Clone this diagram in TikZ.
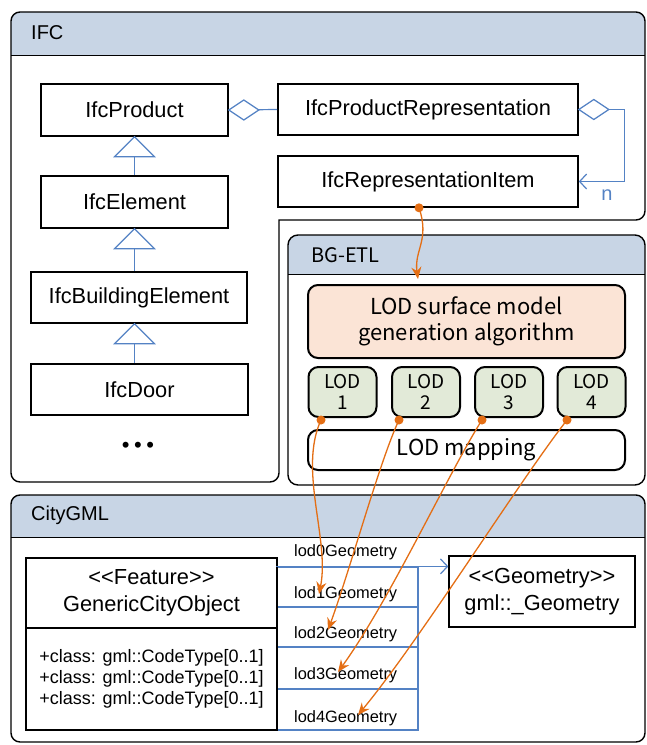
\documentclass[tikz,border=0pt]{standalone}
\usepackage{fontspec}
\setmainfont{Liberation Sans}
\newfontfamily\umlfont{Liberation Sans}
\newfontfamily\korfont{Noto Sans CJK KR}
\usetikzlibrary{arrows.meta}
\definecolor{hdrfill}{RGB}{200,213,229}
\definecolor{umlblue}{RGB}{84,130,196}
\definecolor{linkorange}{RGB}{228,110,20}
\definecolor{algofill}{RGB}{251,228,214}
\definecolor{lodfill}{RGB}{226,234,216}
\begin{document}
\begin{tikzpicture}[x=1pt,y=-1pt,
  cls/.style={draw, line width=1.6pt, fill=white, inner sep=0pt,
    font=\umlfont\fontsize{21.8}{27}\selectfont, align=center},
  frameline/.style={draw, line width=1.4pt},
  hdrtext/.style={anchor=west, inner sep=0pt, font=\umlfont\fontsize{20}{24}\selectfont},
  uml/.style={draw=umlblue, line width=1.2pt},
  umlarrow/.style={uml, -{Straight Barb[length=7pt,width=15pt,line width=1.2pt]}},
  rowbox/.style={draw=umlblue, line width=1.2pt, minimum width=141pt, inner sep=0pt},
  rowtext/.style={anchor=west, inner sep=0pt, font=\umlfont\fontsize{16.4}{20}\selectfont},
  etlbox/.style={draw, line width=2pt, rounded corners=10pt, inner sep=0pt, align=center,
    font=\korfont\fontsize{22}{26}\selectfont},
  lodbox/.style={etlbox, fill=lodfill, minimum width=68pt, minimum height=50pt,
    font=\korfont\fontsize{19}{21}\selectfont},
  link/.style={draw=linkorange, line width=1.3pt, -{Stealth[length=12pt,width=10pt]}},
  linkdot/.style={fill=linkorange}
]
\useasboundingbox (0,0) rectangle (647,745);

% ---------------- IFC package ----------------
\begin{scope}
  \clip[rounded corners=9pt] (11,12) rectangle (645,220);
  \fill[hdrfill] (11,12) rectangle (645,55);
\end{scope}
\draw[line width=1pt] (11,55) -- (645,55);
\draw[frameline] (279,220) [rounded corners=9pt] -- (279,482) -- (11,482) -- (11,12)
  -- (645,12) -- (645,220) [sharp corners] -- cycle;
\node[hdrtext] (ifchdr) at (31,33) {IFC};

\node[cls, minimum width=187pt, minimum height=52pt] (prod) at (134.5,110) {IfcProduct};
\node[cls, minimum width=187pt, minimum height=52pt] (elem) at (134.5,202) {IfcElement};
\node[cls, minimum width=216pt, minimum height=51pt] (bldg) at (139,297.5) {IfcBuildingElement};
\node[cls, minimum width=217pt, minimum height=51pt] (door) at (139.5,389.5) {IfcDoor};
\node[inner sep=0pt, font=\umlfont\fontsize{22}{24}\selectfont] (more) at (138,447)
  {\textbullet\kern4.5pt\textbullet\kern4.5pt\textbullet};

\node[cls, minimum width=300pt, minimum height=51pt] (rep) at (428,109.5) {IfcProductRepresentation};
\node[cls, minimum width=300pt, minimum height=51pt] (item) at (428,181.5) {IfcRepresentationItem};

% generalisations
\draw[uml] (elem.north) -- (prod.south);
\filldraw[uml, fill=white] (prod.south) -- ++(20,20) -- ++(-40,0) -- cycle;
\draw[uml] (bldg.north -| elem.south) -- (elem.south);
\filldraw[uml, fill=white] (elem.south) -- ++(20,20) -- ++(-40,0) -- cycle;
\draw[uml] (door.north -| elem.south) -- (bldg.south -| elem.south);
\filldraw[uml, fill=white] (bldg.south -| elem.south) -- ++(20,20) -- ++(-40,0) -- cycle;

% aggregations
\draw[uml] (prod.east) -- (rep.west);
\filldraw[uml, fill=white] (prod.east) -- ++(15,-10) -- ++(15,10) -- ++(-15,10) -- cycle;
\draw[umlarrow] (rep.east) -- ++(46,0) |- (item.east);
\filldraw[uml, fill=white] (rep.east) -- ++(15,-10) -- ++(15,10) -- ++(-15,10) -- cycle;
\node[inner sep=0pt, text=umlblue, font=\umlfont\fontsize{20}{24}\selectfont] (mult) at (607,195) {n};

% ---------------- BG-ETL package ----------------
\begin{scope}
  \clip[rounded corners=10pt] (288,235) rectangle (645,485);
  \fill[hdrfill] (288,235) rectangle (645,274);
\end{scope}
\draw[line width=1pt] (288,274) -- (645,274);
\draw[frameline, rounded corners=10pt] (288,235) rectangle (645,485);
\node[hdrtext, font=\korfont\fontsize{20}{24}\selectfont] (etlhdr) at (311,255) {BG-ETL};

\node[etlbox, fill=algofill, minimum width=317pt, minimum height=73pt] (algo) at (466.5,321.5)
  {LOD surface model\\generation algorithm};
\node[lodbox] (lod1) at (342.5,392) {LOD\\1};
\node[lodbox] (lod2) at (426,392) {LOD\\2};
\node[lodbox] (lod3) at (509,392) {LOD\\3};
\node[lodbox] (lod4) at (591.5,392) {LOD\\4};
\node[etlbox, fill=white, minimum width=317pt, minimum height=40pt] (map) at (466.5,450) {LOD mapping};

% ---------------- CityGML package ----------------
\begin{scope}
  \clip[rounded corners=9pt] (11,495) rectangle (645,742);
  \fill[hdrfill] (11,495) rectangle (645,537);
\end{scope}
\draw[line width=1pt] (11,537) -- (645,537);
\draw[frameline, rounded corners=9pt] (11,495) rectangle (645,742);
\node[hdrtext] (cityhdr) at (31,515) {CityGML};

\node[rowbox, minimum height=40pt] (r1) at (347.5,587) {};
\node[rowbox, minimum height=40pt] (r2) at (347.5,627) {};
\node[rowbox, minimum height=42pt] (r3) at (347.5,668) {};
\node[rowbox, minimum height=41pt] (r4) at (347.5,709.5) {};

\node[cls, line width=1.4pt, minimum width=251pt, minimum height=70pt] (gco) at (151.5,593)
  {<{}<Feature>{}>\\GenericCityObject};
\node[cls, line width=1.4pt, minimum width=251pt, minimum height=102pt, align=left,
  font=\umlfont\fontsize{18}{21}\selectfont] (attrs) at (151.5,679)
  {+class: gml::CodeType[0..1]\\+class: gml::CodeType[0..1]\\+class: gml::CodeType[0..1]};

\node[cls, line width=1.4pt, minimum width=186pt, minimum height=71pt] (geom) at (542,591.5)
  {<{}<Geometry>{}>\\gml::\_Geometry};

\draw[umlarrow] (r1.north west) -- (r1.north west -| geom.west);

\node[rowtext] (lab0) at (294,552) {lod0Geometry};
\node[rowtext] (lab1) at (294,594) {lod1Geometry};
\node[rowtext] (lab2) at (294,634) {lod2Geometry};
\node[rowtext] (lab3) at (294,675) {lod3Geometry};
\node[rowtext] (lab4) at (294,718) {lod4Geometry};

% ---------------- data flow ----------------
\coordinate (o0) at ([xshift=-9pt]item.south);
\coordinate (o1) at ([xshift=-21.5pt,yshift=-2pt]lod1.south);
\coordinate (o2) at ([xshift=-27pt,yshift=-2pt]lod2.south);
\coordinate (o3) at ([xshift=-27pt,yshift=-2pt]lod3.south);
\coordinate (o4) at ([xshift=-24.5pt,yshift=-2pt]lod4.south);

\draw[link] (o0) .. controls (430,240) and (414,250) .. ([xshift=-48.5pt,yshift=5pt]algo.north);
\draw[link] (o1) .. controls (298,470) and (330,540) .. ([xshift=25pt]lab1.west);
\draw[link] (o2) .. controls (380,460) and (350,570) .. ([xshift=34pt,yshift=4pt]lab2.west);
\draw[link] (o3) .. controls (450,470) and (390,600) .. ([xshift=44pt,yshift=3pt]lab3.west);
\draw[link] (o4) .. controls (520,480) and (420,640) .. ([xshift=64pt,yshift=3pt]lab4.west);

\foreach \d in {o0,o1,o2,o3,o4} \fill[linkdot] (\d) circle (4.5pt);
\end{tikzpicture}
\end{document}
